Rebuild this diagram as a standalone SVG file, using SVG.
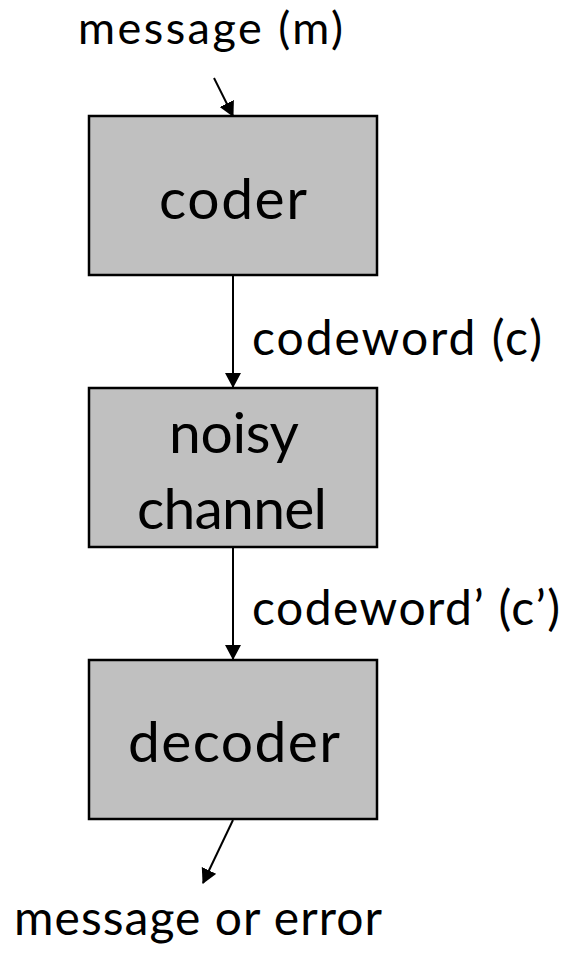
<svg xmlns="http://www.w3.org/2000/svg" width="567" height="954" viewBox="0 0 567 954">
<style>
.box{fill:#c0c0c0;stroke:#000;stroke-width:2.5}
.t{font-family:Lato,"Open Sans","Liberation Sans",sans-serif;fill:#000}
.n{font-size:57px;text-anchor:middle}
.l{font-size:48px}
.c{stroke:#000;stroke-width:2;fill:none;marker-end:url(#ah)}
</style>
<defs>
<marker id="ah" markerWidth="15" markerHeight="16" refX="14" refY="8" orient="auto" markerUnits="userSpaceOnUse" viewBox="0 0 15 16">
<path d="M0,0 L15,8 L0,16 Z" fill="#000"/>
</marker>
</defs>
<g id="connectors">
<line class="c" x1="214" y1="78" x2="233" y2="116"/>
<line class="c" x1="233" y1="276" x2="233" y2="387"/>
<line class="c" x1="233" y1="548" x2="233" y2="659"/>
<line class="c" x1="233" y1="820" x2="203" y2="883"/>
</g>
<g id="coder">
<rect class="box" x="89" y="116" width="288" height="159"/>
<text class="t n" x="233" y="219" textLength="148">coder</text>
</g>
<g id="noisy-channel">
<rect class="box" x="89" y="388" width="288" height="159"/>
<text class="t n" x="234" y="453" textLength="130">noisy</text>
<text class="t n" x="232" y="529" textLength="190">channel</text>
</g>
<g id="decoder">
<rect class="box" x="89" y="660" width="288" height="159"/>
<text class="t n" x="234" y="762" textLength="212">decoder</text>
</g>
<g id="labels">
<text class="t l" x="78" y="44" style="font-size:45px" textLength="265">message (m)</text>
<text class="t l" x="252" y="355" textLength="290">codeword (c)</text>
<text class="t l" x="252" y="625" textLength="308">codeword’ (c’)</text>
<text class="t l" x="14" y="935" textLength="368">message or error</text>
</g>
</svg>
